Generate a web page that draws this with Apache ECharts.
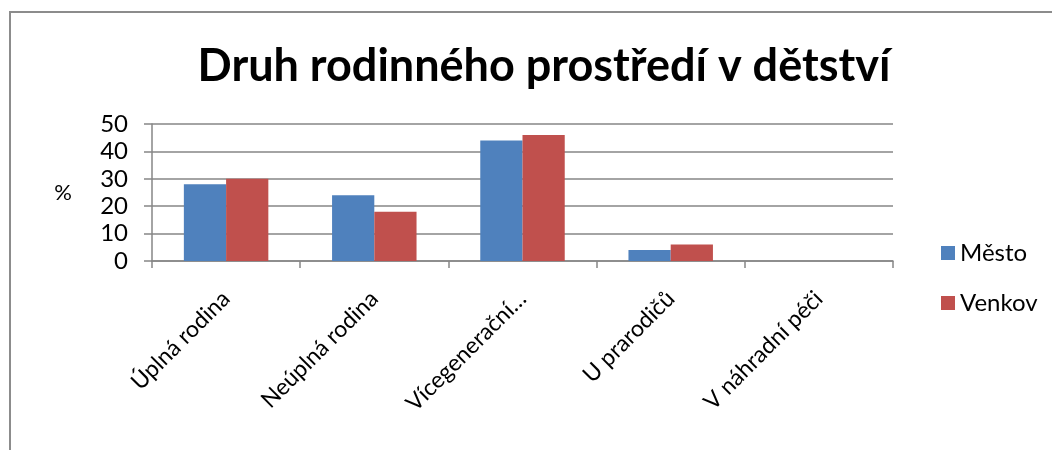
<!DOCTYPE html>
<html>
<head>
<meta charset="utf-8">
<script src="https://cdn.jsdelivr.net/npm/echarts@6/dist/echarts.min.js"></script>
<style>
  html, body { margin: 0; padding: 0; background: #fff; }
  #frame {
    position: absolute; left: 9px; top: 11px; width: 1100px; height: 500px;
    border-left: 2px solid #8c8c8c; border-top: 2px solid #8c8c8c;
  }
  #chart { position: absolute; left: 0; top: 0; width: 1052px; height: 450px; }
</style>
</head>
<body>
<div id="frame"></div>
<div id="chart"></div>
<script>
  // data
  var categories = ['Úplná rodina', 'Neúplná rodina', 'Vícegenerační…', 'U prarodičů', 'V náhradní péči'];
  var mesto = [28, 24, 44, 4, 0];
  var venkov = [30, 18, 46, 6, 0];

  var font = 'Lato, "Open Sans", sans-serif';
  var chart = echarts.init(document.getElementById('chart'));

  var option = {
    textStyle: {fontFamily: font},
    title: {
      text: 'Druh rodinného prostředí v dětství',
      left: 539,
      textAlign: 'center',
      top: 39,
      textStyle: {fontSize: 45, fontWeight: 'bold', color: '#000', fontFamily: font}
    },
    legend: {
      orient: 'vertical',
      left: 936,
      top: 236,
      itemWidth: 14,
      itemHeight: 14,
      itemGap: 26,
      icon: 'rect',
      textStyle: {fontSize: 24, color: '#000', fontFamily: font},
      data: ['Město', 'Venkov']
    },
    grid: {left: 152, right: 159, top: 124, bottom: 189},
    xAxis: {
      type: 'category',
      data: categories,
      axisLine: {lineStyle: {color: '#868686', width: 1.5}},
      axisTick: {show: true, length: 7, lineStyle: {color: '#868686', width: 1.5}},
      axisLabel: {rotate: 45, fontSize: 23, color: '#000', margin: 34, interval: 0, fontFamily: font}
    },
    yAxis: {
      type: 'value',
      min: 0,
      max: 50,
      interval: 10,
      name: '%',
      nameLocation: 'middle',
      nameRotate: 0,
      nameGap: 80,
      nameTextStyle: {fontSize: 22, color: '#000', fontFamily: font, padding: [7, 0, 0, 0]},
      axisLine: {show: true, lineStyle: {color: '#868686', width: 1.5}},
      axisTick: {show: true, length: 8, lineStyle: {color: '#868686', width: 1.5}},
      splitLine: {lineStyle: {color: '#868686', width: 1.5}},
      axisLabel: {fontSize: 24, color: '#000', margin: 24, fontFamily: font}
    },
    series: [
      {
        name: 'Město',
        type: 'bar',
        data: mesto,
        barGap: 0,
        barCategoryGap: '43%',
        itemStyle: {color: '#4F81BD'}
      },
      {
        name: 'Venkov',
        type: 'bar',
        data: venkov,
        itemStyle: {color: '#C0504D'}
      }
    ]
  };

  chart.setOption(option);
</script>
</body>
</html>
